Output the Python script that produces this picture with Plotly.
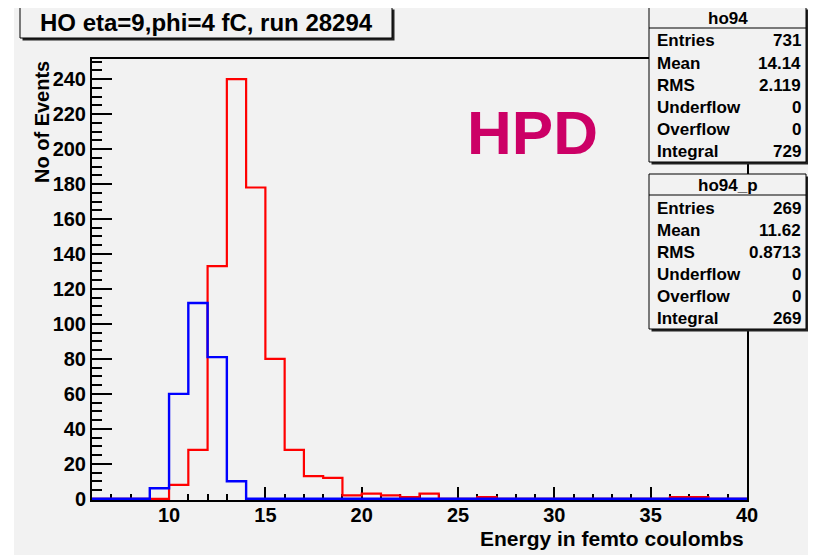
import plotly.graph_objects as go

# ---------------- data ----------------
bin_edges = list(range(6, 41))  # 34 bins of width 1 from 6 to 40
ho94_counts = [0, 0, 0, 0, 8, 28, 133, 240, 178, 80, 28, 13, 12, 2, 3, 2, 1, 3,
               0, 0, 1, 0, 0, 0, 0, 0, 0, 0, 0, 0, 1, 1, 0, 0]
ho94_p_counts = [0, 0, 0, 6, 60, 112, 81, 10, 0, 0, 0, 0, 0, 0, 0, 0, 0, 0,
                 0, 0, 0, 0, 0, 0, 0, 0, 0, 0, 0, 0, 0, 0, 0, 0]

stat_labels = ["Entries", "Mean", "RMS", "Underflow", "Overflow", "Integral"]
ho94_stats = ["731", "14.14", "2.119", "0", "0", "729"]
ho94_p_stats = ["269", "11.62", "0.8713", "0", "0", "269"]

title_text = "HO eta=9,phi=4 fC, run 28294"
x_title = "Energy in femto coulombs"
y_title = "No of Events"
label_text = "HPD"

# ---------------- layout helpers ----------------
# page offset of the figure (browser body margin)
OFF = 8
W, H = 816, 555
# plot frame in page pixels: x 92..747, y 59..500
FX0, FX1, FY0, FY1 = 92, 747, 59, 500
L, T = FX0 - OFF, FY0 - OFF
R, B = W - (FX1 - OFF), H - (FY1 - OFF)
PW, PH = W - L - R, H - T - B
BG = "#f2f2f2"
FONT = "Liberation Sans, Arial, sans-serif"


def px(xp):
    """page x pixel -> paper fraction"""
    return (xp - FX0) / PW


def py(yp):
    """page y pixel -> paper fraction"""
    return (FY1 - yp) / PH


def step(counts):
    return counts + [counts[-1]]


fig = go.Figure()
fig.add_trace(go.Scatter(x=bin_edges, y=step(ho94_counts), mode="lines",
                         line=dict(color="#ff0000", width=2.2, shape="hv"),
                         showlegend=False, hoverinfo="skip"))
fig.add_trace(go.Scatter(x=bin_edges, y=step(ho94_p_counts), mode="lines",
                         line=dict(color="#0000ff", width=2.4, shape="hv"),
                         showlegend=False, hoverinfo="skip"))

shapes = []
# grey canvas (white strip on left/top like reference)
shapes.append(dict(type="rect", xref="paper", yref="paper", layer="below",
                   x0=px(14), x1=px(W + 20), y0=py(H + 20), y1=py(0),
                   fillcolor=BG, line=dict(width=0)))


def box(x0, x1, y0, y1, sep=None):
    # shadow
    shapes.append(dict(type="rect", xref="paper", yref="paper", layer="above",
                       x0=px(x0 + 2.5), x1=px(x1 + 2.5), y0=py(y1 + 2.5), y1=py(y0 + 2.5),
                       fillcolor="#222222", line=dict(width=0)))
    shapes.append(dict(type="rect", xref="paper", yref="paper", layer="above",
                       x0=px(x0), x1=px(x1), y0=py(y1), y1=py(y0),
                       fillcolor=BG, line=dict(color="black", width=1)))
    if sep is not None:
        shapes.append(dict(type="line", xref="paper", yref="paper", layer="above",
                           x0=px(x0), x1=px(x1), y0=py(sep), y1=py(sep),
                           line=dict(color="black", width=1)))


annotations = []

# title box
box(20, 392, 7, 38)
annotations.append(dict(text=title_text, xref="paper", yref="paper",
                        x=px(206), y=py(23), xanchor="center", yanchor="middle",
                        showarrow=False,
                        font=dict(family=FONT, size=24, color="black", weight="bold")))

# stats boxes
for top, name, vals in [(7, "ho94", ho94_stats), (174, "ho94_p", ho94_p_stats)]:
    box(649, 806, top, top + 155, sep=top + 21)
    annotations.append(dict(text=name, xref="paper", yref="paper",
                            x=px(728), y=py(top + 11), xanchor="center", yanchor="middle",
                            showarrow=False,
                            font=dict(family=FONT, size=17, color="black", weight="bold")))
    for i, (lab, val) in enumerate(zip(stat_labels, vals)):
        yy = top + 34 + 22 * i
        annotations.append(dict(text=lab, xref="paper", yref="paper",
                                x=px(655), y=py(yy), xanchor="left", yanchor="middle",
                                showarrow=False,
                                font=dict(family=FONT, size=17, color="black", weight="bold")))
        annotations.append(dict(text=val, xref="paper", yref="paper",
                                x=px(803), y=py(yy), xanchor="right", yanchor="middle",
                                showarrow=False,
                                font=dict(family=FONT, size=17, color="black", weight="bold")))

# HPD label
annotations.append(dict(text=label_text, xref="paper", yref="paper",
                        x=px(532), y=py(132), xanchor="center", yanchor="middle",
                        showarrow=False,
                        font=dict(family=FONT, size=62, color="#cc0066", weight="bold")))

# axis titles
annotations.append(dict(text=x_title, xref="paper", yref="paper",
                        x=px(746), y=py(538), xanchor="right", yanchor="middle",
                        showarrow=False,
                        font=dict(family=FONT, size=21, color="black", weight="bold")))
annotations.append(dict(text=y_title, xref="paper", yref="paper",
                        x=px(42), y=py(59), xanchor="center", yanchor="top",
                        textangle=-90, showarrow=False,
                        font=dict(family=FONT, size=20, color="black", weight="bold")))

axis_common = dict(showline=True, linecolor="black", linewidth=2, mirror=True,
                   showgrid=False, zeroline=False, ticks="inside",
                   tickcolor="black", tickwidth=1.5,
                   tickfont=dict(family=FONT, size=20, color="black", weight="bold"),
                   layer="below traces")

fig.update_layout(
    width=W, height=H,
    margin=dict(l=L, r=R, t=T, b=B),
    paper_bgcolor="white", plot_bgcolor=BG,
    xaxis=dict(range=[6, 40], tick0=0, dtick=5, ticklen=13, ticklabelstandoff=-4,
               minor=dict(dtick=1, ticklen=6.5, tickwidth=1.5, tickcolor="black",
                          ticks="inside", showgrid=False),
               **axis_common),
    yaxis=dict(range=[-0.7, 251.5], tick0=0, dtick=20, ticklen=20,
               minor=dict(dtick=5, ticklen=10, tickwidth=1.5, tickcolor="black",
                          ticks="inside", showgrid=False),
               **axis_common),
    shapes=shapes, annotations=annotations,
    showlegend=False,
)

fig.write_html("out.html")
